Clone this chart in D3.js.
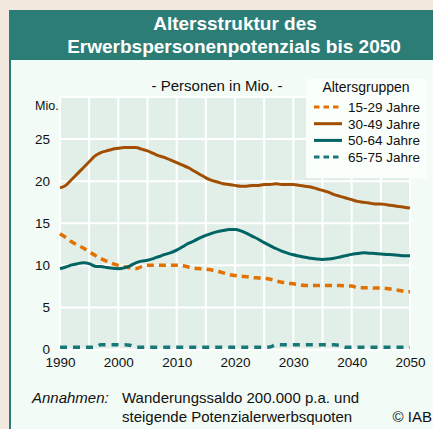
<!DOCTYPE html>
<html>
<head>
<meta charset="utf-8">
<script src="https://cdn.jsdelivr.net/npm/d3@7"></script>
<style>
  body { margin: 0; background: #f3e8dd; }
  svg { display: block; font-family: 'Liberation Sans', Arial, sans-serif; }
</style>
</head>
<body>
<div id="chart"></div>
<script>
const years = d3.range(1990, 2051)

// Personen in Mio.
const age15to29 = [13.75, 13.3, 12.8, 12.4, 12.05, 11.6, 11.2, 10.8, 10.5, 10.2,
  10.0, 9.85, 9.7, 9.6, 9.85, 10.0, 10.0, 10.0, 10.0, 10.0,
  10.0, 9.95, 9.8, 9.65, 9.6, 9.55, 9.45, 9.3, 9.1, 8.9,
  8.8, 8.7, 8.65, 8.55, 8.5, 8.45, 8.35, 8.15, 8.0, 7.9,
  7.8, 7.7, 7.6, 7.6, 7.6, 7.6, 7.6, 7.6, 7.6, 7.55,
  7.55, 7.35, 7.35, 7.35, 7.3, 7.3, 7.25, 7.15, 7.05, 6.9, 6.85]
const age30to49 = [19.2, 19.5, 20.2, 20.9, 21.6, 22.3, 23.0, 23.4, 23.6, 23.8,
  23.9, 24.0, 24.0, 24.0, 23.8, 23.6, 23.3, 23.0, 22.8, 22.5,
  22.2, 21.9, 21.6, 21.2, 20.8, 20.4, 20.1, 19.9, 19.7, 19.6,
  19.5, 19.4, 19.4, 19.5, 19.5, 19.6, 19.6, 19.7, 19.6, 19.6,
  19.6, 19.5, 19.4, 19.3, 19.1, 18.9, 18.7, 18.4, 18.2, 18.0,
  17.8, 17.6, 17.5, 17.4, 17.3, 17.3, 17.2, 17.1, 17.0, 16.9, 16.8]
const age50to64 = [9.6, 9.8, 10.05, 10.2, 10.3, 10.2, 9.9, 9.85, 9.75, 9.65,
  9.6, 9.7, 9.95, 10.3, 10.5, 10.6, 10.8, 11.05, 11.3, 11.5,
  11.8, 12.2, 12.6, 12.9, 13.25, 13.55, 13.8, 14.0, 14.15, 14.25,
  14.25, 14.1, 13.8, 13.45, 13.1, 12.7, 12.35, 12.0, 11.7, 11.45,
  11.25, 11.1, 10.95, 10.85, 10.75, 10.7, 10.75, 10.85, 11.0, 11.15,
  11.3, 11.4, 11.5, 11.45, 11.4, 11.35, 11.3, 11.25, 11.2, 11.15, 11.15]
const age65to75 = [0.27, 0.27, 0.27, 0.27, 0.27, 0.27, 0.27, 0.55, 0.55, 0.55,
  0.55, 0.55, 0.5, 0.27, 0.27, 0.27, 0.27, 0.27, 0.27, 0.27,
  0.27, 0.27, 0.27, 0.27, 0.27, 0.27, 0.27, 0.27, 0.27, 0.27,
  0.27, 0.27, 0.27, 0.27, 0.27, 0.27, 0.3, 0.55, 0.55, 0.55,
  0.55, 0.55, 0.55, 0.55, 0.55, 0.55, 0.55, 0.55, 0.5, 0.27,
  0.27, 0.27, 0.27, 0.27, 0.27, 0.27, 0.27, 0.27, 0.27, 0.27, 0.27]

const seriesNames = ['15-29 Jahre', '30-49 Jahre', '50-64 Jahre', '65-75 Jahre']
const seriesColors = ['#e27100', '#a24e00', '#006464', '#187878']
const seriesDash = ['7,5', null, null, '7,6']
const yTicks = [0, 5, 10, 15, 20, 25]
const xTicks = [1990, 2000, 2010, 2020, 2030, 2040, 2050]

const allSeries = [age15to29, age30to49, age50to64, age65to75]

const W = 433
const H = 429
const plot = { left: 60, right: 410, top: 97, bottom: 349.5 }

const svg = d3
  .select('#chart')
  .append('svg')
  .attr('width', W)
  .attr('height', H)

// background frame
svg.append('rect').attr('width', W).attr('height', H).attr('fill', '#f3e8dd')
svg.append('rect').attr('x', 9).attr('y', 10).attr('width', W - 9).attr('height', H - 10).attr('fill', '#2c7d76')
svg.append('rect').attr('x', 11).attr('y', 60).attr('width', W - 11).attr('height', H - 60).attr('fill', '#f2fbf6')

svg.append('text')
  .attr('x', 235).attr('y', 30)
  .attr('text-anchor', 'middle')
  .attr('fill', '#fff').attr('font-size', 19).attr('font-weight', 'bold')
  .text('Altersstruktur des')
svg.append('text')
  .attr('x', 234).attr('y', 53)
  .attr('text-anchor', 'middle')
  .attr('fill', '#fff').attr('font-size', 19).attr('font-weight', 'bold')
  .text('Erwerbspersonenpotenzials bis 2050')

svg.append('text')
  .attr('x', 217).attr('y', 91)
  .attr('text-anchor', 'middle')
  .attr('fill', '#111').attr('font-size', 15)
  .text('- Personen in Mio. -')

const x = d3.scaleLinear().domain([1990, 2050]).range([plot.left, plot.right])
const y = d3.scaleLinear().domain([0, 30]).range([plot.bottom, plot.top])

// plot area
svg.append('rect')
  .attr('x', plot.left).attr('y', plot.top)
  .attr('width', plot.right - plot.left).attr('height', plot.bottom - plot.top)
  .attr('fill', '#e1efe8')

const grid = svg.append('g').attr('stroke', '#fff').attr('stroke-width', 2)
grid.selectAll('.vgrid')
  .data(d3.range(1990, 2051, 5))
  .enter()
  .append('line')
  .attr('x1', d => x(d)).attr('x2', d => x(d))
  .attr('y1', plot.top).attr('y2', plot.bottom)
grid.selectAll('.hgrid')
  .data(d3.range(0, 31, 5))
  .enter()
  .append('line')
  .attr('x1', plot.left).attr('x2', plot.right)
  .attr('y1', d => y(d)).attr('y2', d => y(d))

// axes
const yAxis = d3.axisLeft(y).tickValues(yTicks).tickSize(0).tickPadding(10)
svg.append('g')
  .attr('transform', `translate(${plot.left},0)`)
  .call(yAxis)
  .call(g => g.select('.domain').remove())
  .selectAll('text')
  .attr('font-size', 13.5).attr('fill', '#111')
  .attr('font-family', "'Liberation Sans', Arial, sans-serif")

const xAxis = d3.axisBottom(x).tickValues(xTicks).tickFormat(d3.format('d')).tickSize(0).tickPadding(8)
svg.append('g')
  .attr('transform', `translate(0,${plot.bottom})`)
  .call(xAxis)
  .call(g => g.select('.domain').remove())
  .selectAll('text')
  .attr('font-size', 13.5).attr('fill', '#111')
  .attr('font-family', "'Liberation Sans', Arial, sans-serif")

svg.append('text')
  .attr('x', 35).attr('y', 110)
  .attr('font-size', 12.5).attr('fill', '#111')
  .text('Mio.')

// lines
const line = d3.line()
  .x((d, i) => x(years[i]))
  .y(d => y(d))
  .curve(d3.curveMonotoneX)

svg.append('g')
  .selectAll('path')
  .data(allSeries)
  .enter()
  .append('path')
  .attr('d', d => line(d))
  .attr('fill', 'none')
  .attr('stroke', (d, i) => seriesColors[i])
  .attr('stroke-width', (d, i) => (seriesDash[i] ? 3.5 : 3))
  .attr('stroke-dasharray', (d, i) => seriesDash[i])

// legend
const legend = svg.append('g')
legend.append('rect')
  .attr('x', 306).attr('y', 79).attr('width', 121).attr('height', 99)
  .attr('fill', '#fafffb')
legend.append('text')
  .attr('x', 366).attr('y', 92)
  .attr('text-anchor', 'middle')
  .attr('font-size', 14).attr('fill', '#111')
  .text('Altersgruppen')

const rows = legend.selectAll('.row')
  .data(seriesNames)
  .enter()
  .append('g')
  .attr('transform', (d, i) => `translate(0,${107 + i * 16.7})`)
rows.append('line')
  .attr('x1', 314).attr('x2', 342)
  .attr('stroke', (d, i) => seriesColors[i])
  .attr('stroke-width', 3)
  .attr('stroke-dasharray', (d, i) => (seriesDash[i] ? '5.5,4' : null))
rows.append('text')
  .attr('x', 348).attr('y', 5)
  .attr('font-size', 13.5).attr('fill', '#111')
  .text(d => d)

// footnote
svg.append('text')
  .attr('x', 32).attr('y', 403)
  .attr('font-size', 15).attr('font-style', 'italic').attr('fill', '#111')
  .text('Annahmen:')
svg.append('text')
  .attr('x', 122).attr('y', 403)
  .attr('font-size', 15).attr('fill', '#111')
  .text('Wanderungssaldo 200.000 p.a. und')
svg.append('text')
  .attr('x', 122).attr('y', 422)
  .attr('font-size', 15).attr('fill', '#111')
  .text('steigende Potenzialerwerbsquoten')
svg.append('text')
  .attr('x', 432).attr('y', 422)
  .attr('text-anchor', 'end')
  .attr('font-size', 15).attr('fill', '#111')
  .text('© IAB')
</script>
</body>
</html>
